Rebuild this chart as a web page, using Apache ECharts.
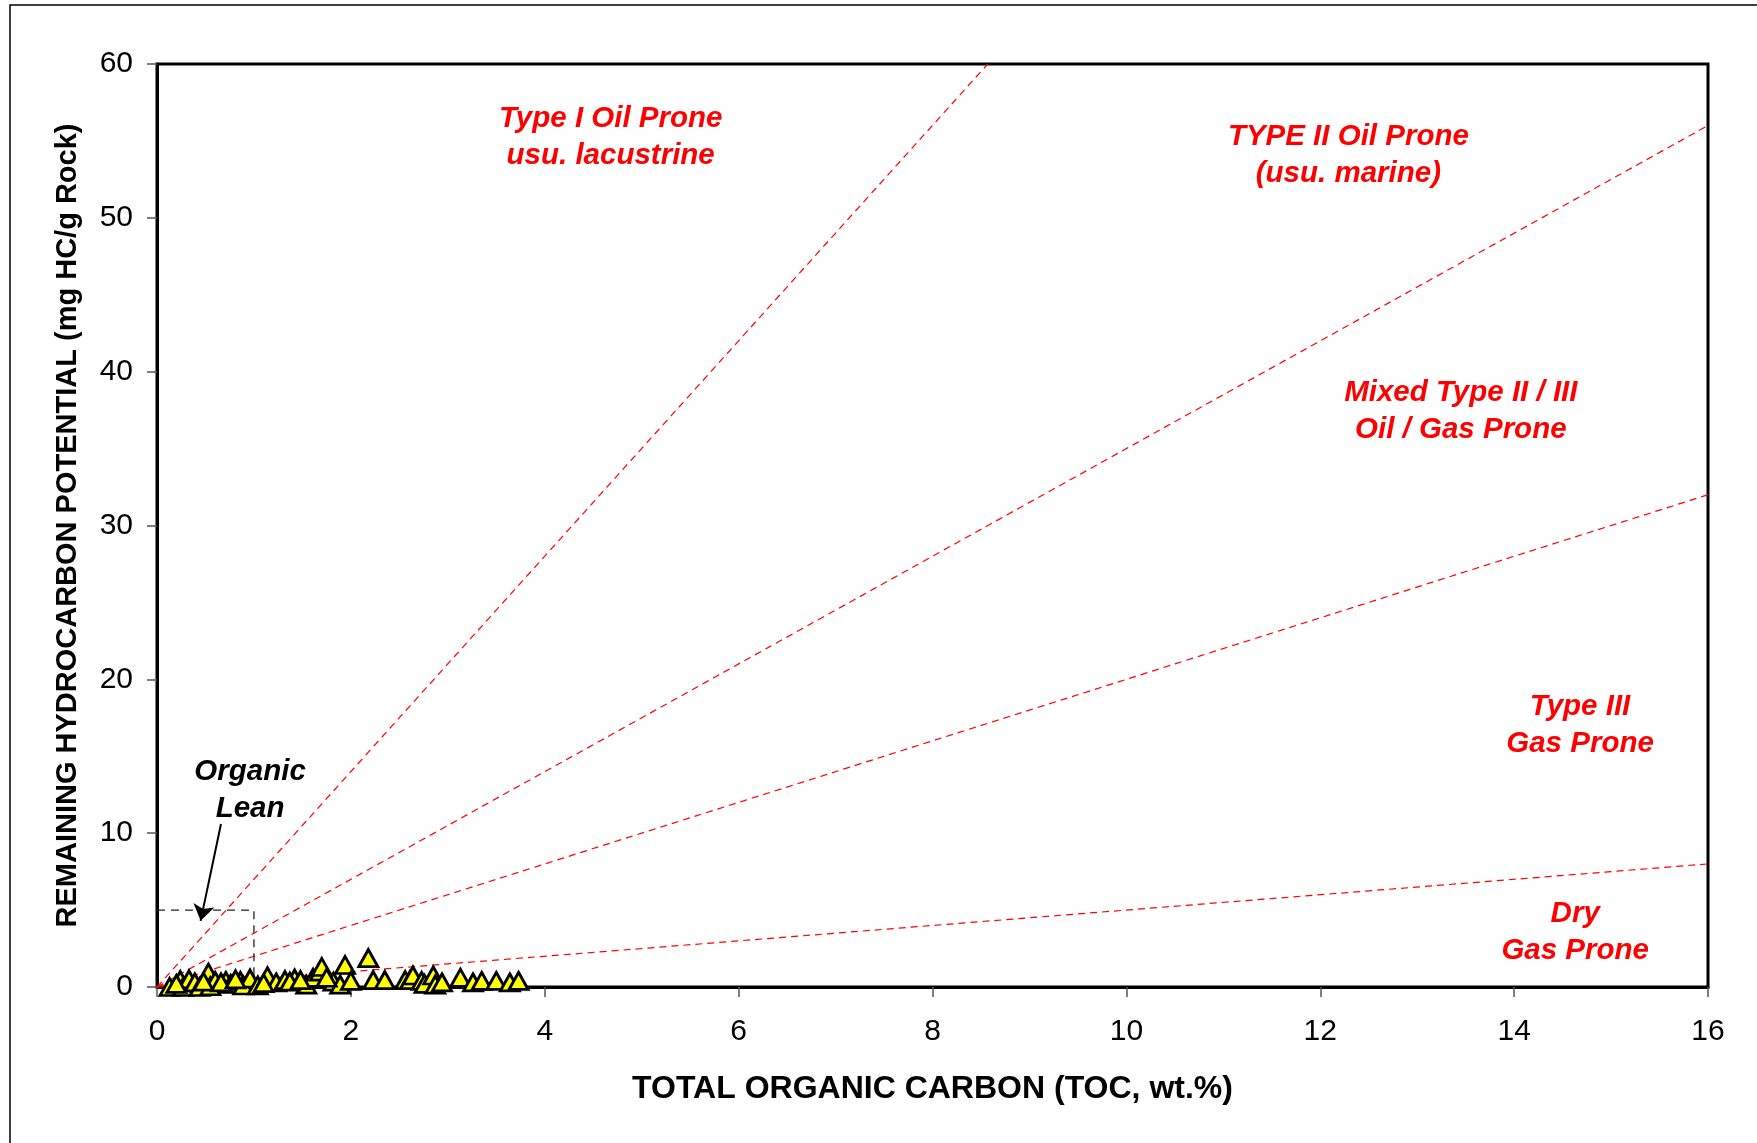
<!DOCTYPE html>
<html>
<head>
<meta charset="utf-8">
<script src="https://cdn.jsdelivr.net/npm/echarts@6/dist/echarts.min.js"></script>
<style>
    html, body { margin: 0; padding: 0; background: #fff; }
    #chart { width: 1757px; height: 1143px; }
</style>
</head>
<body>
<div id="chart"></div>
<script>
// TOC (wt.%) vs remaining HC potential S2 (mg HC/g rock)
var tocValues = [0.13, 0.24, 0.27, 0.33, 0.39, 0.44, 0.53, 0.55, 0.60, 0.71, 0.76, 0.86, 0.89, 0.96, 1.04,
    1.14, 1.23, 1.32, 1.42, 1.54, 1.61, 1.68, 1.70, 1.82, 1.89, 1.94, 2.00, 2.18, 2.23, 2.35,
    2.56, 2.61, 2.64, 2.73, 2.76, 2.85, 2.87, 2.94, 3.13, 3.26, 3.35, 3.50, 3.64, 3.73,
    0.20, 0.48, 0.66, 0.81, 1.10, 1.37, 1.48, 1.75];
var s2Values = [0.0, 0.45, 0.0, 0.5, 0.3, 0.0, 0.93, 0.05, 0.4, 0.4, 0.2, 0.4, 0.1, 0.55, 0.1,
    0.7, 0.3, 0.45, 0.55, 0.15, 0.6, 1.0, 1.3, 0.35, 0.15, 1.43, 0.4, 1.88, 0.45, 0.45,
    0.45, 0.45, 0.75, 0.4, 0.2, 0.75, 0.15, 0.3, 0.6, 0.3, 0.4, 0.4, 0.3, 0.4,
    0.2, 0.35, 0.3, 0.5, 0.25, 0.35, 0.45, 0.6];

// kerogen type boundary lines, from origin to the edge of the plot
var boundaryNames = ['Type I', 'Type II', 'Type II/III', 'Type III'];
var boundaryEnds = [[8.57, 60], [16, 56], [16, 32], [16, 8]];

// organic lean cut-off box and pointer
var leanBox = [[0, 5], [1, 5], [1, 0]];
var leanArrow = [[0.66, 10.6], [0.45, 4.3]];

// zone annotations
var zoneLabels = ['Type I Oil Prone\nusu. lacustrine', 'TYPE II Oil Prone\n(usu. marine)',
    'Mixed Type II / III\nOil / Gas Prone', 'Type III\nGas Prone', 'Dry\nGas Prone'];
var zoneAt = [[4.68, 55.2], [12.29, 54.05], [13.45, 37.4], [14.68, 17.0], [14.63, 3.54]];

var xTicks = [0, 2, 4, 6, 8, 10, 12, 14, 16];
var yTicks = [0, 10, 20, 30, 40, 50, 60];

var myChart = echarts.init(document.getElementById('chart'));

var points = tocValues.map(function (x, i) { return [x, s2Values[i]]; });

var series = [];
boundaryEnds.forEach(function (end, i) {
    series.push({
        name: boundaryNames[i],
        type: 'line',
        data: [[0, 0], end],
        symbol: 'none',
        silent: true,
        z: 2,
        lineStyle: { color: '#ff0000', width: 1.2, type: [7, 5] }
    });
});
series.push({
    name: 'Organic Lean',
    type: 'line',
    data: leanBox,
    symbol: 'none',
    silent: true,
    z: 2,
    lineStyle: { color: '#222', width: 1.3, type: [8, 6] }
});
series.push({
    name: 'arrow',
    type: 'lines',
    coordinateSystem: 'cartesian2d',
    data: [{ coords: leanArrow }],
    symbol: ['none', 'arrow'],
    symbolSize: 16,
    silent: true,
    z: 3,
    lineStyle: { color: '#000', width: 2, opacity: 1 }
});
series.push({
    name: 'Samples',
    type: 'scatter',
    data: points,
    symbol: 'triangle',
    symbolSize: [19, 17],
    z: 5,
    itemStyle: { color: '#ffff00', borderColor: '#000', borderWidth: 2.8, opacity: 1 }
});
series.push({
    name: 'zones',
    type: 'scatter',
    silent: true,
    symbolSize: 0,
    z: 6,
    itemStyle: { opacity: 1 },
    data: zoneLabels.map(function (t, i) { return { value: zoneAt[i], name: t }; })
        .concat([{ value: [0.96, 12.77], name: 'Organic\nLean', label: { color: '#000' } }]),
    label: {
        show: true,
        position: 'inside',
        formatter: '{b}',
        color: '#ff0000',
        fontFamily: 'Liberation Sans, Arial, sans-serif',
        fontStyle: 'italic',
        fontWeight: 'bold',
        fontSize: 29.5,
        lineHeight: 37,
        align: 'center',
        verticalAlign: 'middle'
    }
});

var option = {
    backgroundColor: '#fff',
    animation: false,
    graphic: [{
        type: 'rect',
        shape: { x: 10, y: 5, width: 1800, height: 1200 },
        style: { fill: 'none', stroke: '#000', lineWidth: 1.5 },
        silent: true
    }],
    grid: {
        left: 157, top: 64, width: 1551, height: 923,
        show: true, borderColor: '#000', borderWidth: 3
    },
    xAxis: {
        type: 'value',
        min: xTicks[0], max: xTicks[xTicks.length - 1], interval: 2,
        name: 'TOTAL ORGANIC CARBON (TOC, wt.%)',
        nameLocation: 'middle',
        nameGap: 86,
        nameTextStyle: { color: '#000', fontWeight: 'bold', fontSize: 32, fontFamily: 'Liberation Sans, Arial' },
        axisLine: { lineStyle: { color: '#000', width: 3 } },
        axisTick: { show: true, inside: false, length: 10, lineStyle: { color: '#555', width: 1.5 } },
        axisLabel: { color: '#000', fontSize: 30, margin: 30, fontFamily: 'Liberation Sans, Arial' },
        splitLine: { show: false }
    },
    yAxis: {
        type: 'value',
        min: yTicks[0], max: yTicks[yTicks.length - 1], interval: 10,
        name: 'REMAINING HYDROCARBON POTENTIAL (mg HC/g Rock)',
        nameLocation: 'middle',
        nameGap: 75,
        nameTextStyle: { color: '#000', fontWeight: 'bold', fontSize: 29, fontFamily: 'Liberation Sans, Arial' },
        axisLine: { lineStyle: { color: '#000', width: 3 } },
        axisTick: { show: true, inside: false, length: 10, lineStyle: { color: '#555', width: 1.5 } },
        axisLabel: { color: '#000', fontSize: 30, margin: 24, fontFamily: 'Liberation Sans, Arial' },
        splitLine: { show: false }
    },
    series: series
};

myChart.setOption(option);
</script>
</body>
</html>
